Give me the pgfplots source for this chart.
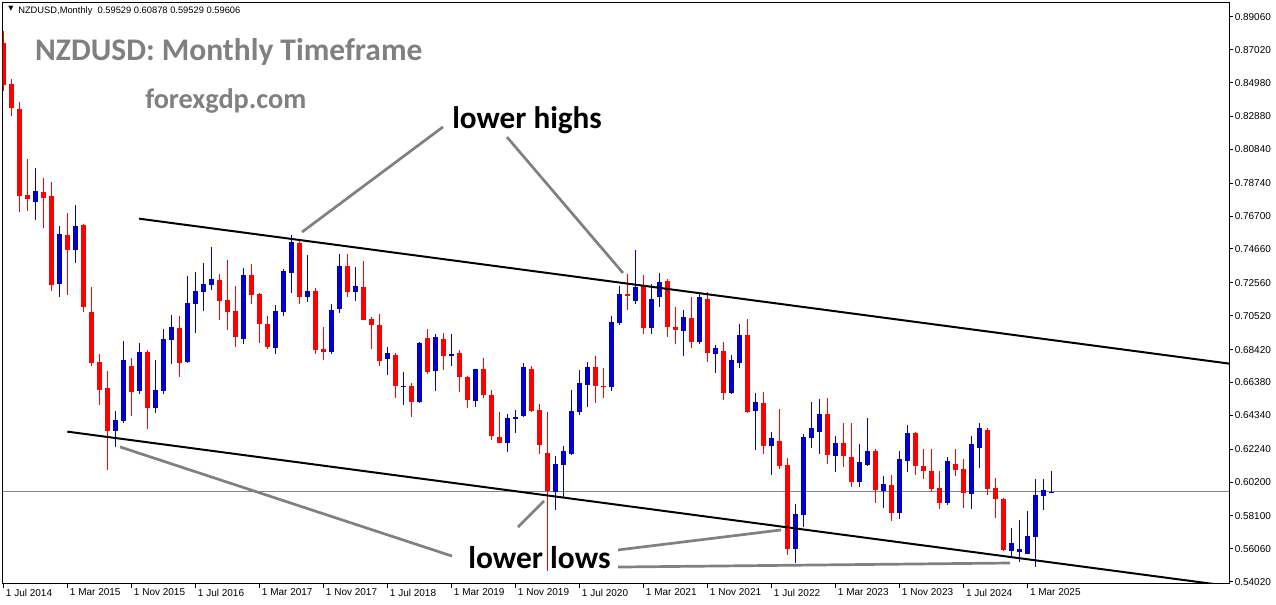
\documentclass[border=0pt]{standalone}
\usepackage{pgfplots}
\pgfplotsset{compat=1.18}
\usepackage{pgfplotstable}
\usepackage{fontspec}
\setmainfont{Liberation Sans}
\newfontfamily\calfont{Carlito}
\newfontfamily\symfont{DejaVu Sans}
\newlength\px
\setlength\px{0.75pt}
\definecolor{bullc}{RGB}{0,0,205}
\definecolor{bearc}{RGB}{255,0,0}
\definecolor{annot}{RGB}{128,128,128}
\definecolor{pricel}{RGB}{119,136,153}

% bullish (blue) monthly candles: bar index from Jul 2014, open high low close
\pgfplotstableread{
t o h l c
4 0.7759 0.7968 0.7646 0.7826
7 0.7251 0.7608 0.7170 0.7559
9 0.7460 0.7739 0.7381 0.7608
14 0.6339 0.6461 0.6239 0.6405
15 0.6401 0.6895 0.6385 0.6777
17 0.6587 0.6883 0.6568 0.6827
19 0.6481 0.6777 0.6450 0.6591
20 0.6587 0.6970 0.6568 0.6908
21 0.6901 0.7056 0.6754 0.6982
23 0.6767 0.7298 0.6761 0.7131
24 0.7126 0.7325 0.6947 0.7205
25 0.7201 0.7381 0.7083 0.7249
26 0.7244 0.7478 0.7211 0.7280
30 0.6909 0.7348 0.6878 0.7305
34 0.6854 0.7118 0.6816 0.7081
35 0.7077 0.7342 0.7052 0.7329
36 0.7319 0.7553 0.7195 0.7509
38 0.7170 0.7429 0.7139 0.7205
41 0.6829 0.7125 0.6816 0.7087
42 0.7095 0.7435 0.7071 0.7360
44 0.7201 0.7354 0.7145 0.7236
48 0.6785 0.6858 0.6686 0.6821
50 0.6610 0.6703 0.6500 0.6618
52 0.6519 0.6889 0.6512 0.6883
54 0.6711 0.6939 0.6587 0.6920
56 0.6802 0.6939 0.6742 0.6814
59 0.6525 0.6721 0.6488 0.6721
63 0.6264 0.6444 0.6208 0.6419
64 0.6413 0.6469 0.6326 0.6426
65 0.6432 0.6759 0.6426 0.6734
69 0.5960 0.6184 0.5849 0.6134
70 0.6128 0.6246 0.5923 0.6215
71 0.6196 0.6593 0.6190 0.6463
72 0.6455 0.6715 0.6436 0.6635
73 0.6622 0.6767 0.6488 0.6734
76 0.6612 0.7050 0.6587 0.7013
77 0.7009 0.7236 0.6996 0.7187
79 0.7143 0.7460 0.7125 0.7230
81 0.6978 0.7249 0.6940 0.7156
82 0.7170 0.7317 0.7108 0.7261
85 0.6959 0.7087 0.6804 0.7044
87 0.6891 0.7193 0.6878 0.7168
89 0.6816 0.6870 0.6698 0.6854
91 0.6574 0.6810 0.6568 0.6777
92 0.6761 0.7001 0.6730 0.6932
94 0.6463 0.6571 0.6221 0.6517
96 0.6246 0.6333 0.6066 0.6295
99 0.5607 0.5884 0.5520 0.5822
100 0.5818 0.6320 0.5743 0.6301
101 0.6295 0.6517 0.6233 0.6357
102 0.6333 0.6535 0.6196 0.6442
104 0.6184 0.6308 0.6084 0.6261
107 0.6022 0.6256 0.5991 0.6145
108 0.6128 0.6419 0.6122 0.6213
110 0.5967 0.6060 0.5861 0.6010
112 0.5830 0.6215 0.5793 0.6165
113 0.6153 0.6374 0.6084 0.6324
118 0.5892 0.6176 0.5880 0.6151
121 0.5948 0.6306 0.5855 0.6256
122 0.6233 0.6386 0.6109 0.6355
126 0.5594 0.5737 0.5557 0.5644
127 0.5588 0.5787 0.5526 0.5607
128 0.5576 0.5842 0.5576 0.5687
129 0.5681 0.6041 0.5495 0.5942
130 0.5936 0.6041 0.5849 0.5973
131 0.59529 0.60878 0.59529 0.59606
}\bull

% bearish (red) monthly candles
\pgfplotstableread{
t o h l c
0 0.8742 0.8818 0.8448 0.8483
1 0.8489 0.8518 0.8291 0.8342
2 0.8334 0.8378 0.7697 0.7796
3 0.7803 0.8024 0.7702 0.7776
5 0.7819 0.7906 0.7598 0.7784
6 0.7795 0.7881 0.7207 0.7242
8 0.7553 0.7689 0.7180 0.7460
10 0.7615 0.7621 0.7077 0.7103
11 0.7073 0.7230 0.6740 0.6761
12 0.6765 0.6814 0.6498 0.6593
13 0.6604 0.6709 0.6095 0.6339
16 0.6740 0.6788 0.6430 0.6581
18 0.6827 0.6839 0.6351 0.6481
22 0.6976 0.7050 0.6674 0.6761
27 0.7274 0.7311 0.7027 0.7145
28 0.7149 0.7398 0.6963 0.7077
29 0.7081 0.7236 0.6860 0.6922
31 0.7305 0.7373 0.7126 0.7182
32 0.7187 0.7193 0.6885 0.7002
33 0.7001 0.7050 0.6847 0.6858
37 0.7503 0.7515 0.7126 0.7170
39 0.7205 0.7224 0.6816 0.6841
40 0.6847 0.6982 0.6779 0.6829
43 0.7360 0.7435 0.7170 0.7201
45 0.7230 0.7391 0.7027 0.7027
46 0.7032 0.7046 0.6847 0.6996
47 0.6995 0.7063 0.6742 0.6773
49 0.6808 0.6821 0.6543 0.6618
51 0.6616 0.6635 0.6426 0.6519
53 0.6914 0.6970 0.6692 0.6705
55 0.6908 0.6945 0.6717 0.6804
57 0.6821 0.6839 0.6581 0.6674
58 0.6672 0.6678 0.6481 0.6531
60 0.6721 0.6790 0.6543 0.6562
61 0.6560 0.6591 0.6283 0.6308
62 0.6301 0.6457 0.6264 0.6264
66 0.6721 0.6742 0.6457 0.6463
67 0.6469 0.6506 0.6196 0.6252
68 0.6202 0.6457 0.5468 0.5967
74 0.6734 0.6802 0.6512 0.6618
75 0.6619 0.6728 0.6543 0.6613
78 0.7189 0.7311 0.7089 0.7176
80 0.7236 0.7305 0.6940 0.6978
83 0.7267 0.7280 0.6922 0.6984
84 0.6982 0.7106 0.6878 0.6965
86 0.7038 0.7168 0.6854 0.6891
88 0.7156 0.7199 0.6767 0.6823
90 0.6833 0.6889 0.6531 0.6574
93 0.6932 0.7032 0.6450 0.6457
95 0.6511 0.6579 0.6196 0.6246
97 0.6275 0.6473 0.6103 0.6122
98 0.6128 0.6168 0.5570 0.5607
103 0.6442 0.6542 0.6134 0.6190
105 0.6262 0.6386 0.6115 0.6184
106 0.6177 0.6386 0.5991 0.6022
109 0.6213 0.6227 0.5892 0.5973
111 0.6004 0.6066 0.5780 0.5830
114 0.6324 0.6331 0.6066 0.6122
115 0.6120 0.6225 0.6041 0.6091
116 0.6089 0.6225 0.5960 0.5979
117 0.5983 0.6089 0.5855 0.5892
119 0.6132 0.6225 0.6060 0.6097
120 0.6101 0.6163 0.5861 0.5954
123 0.6343 0.6355 0.5942 0.5979
124 0.5985 0.6047 0.5799 0.5917
125 0.5915 0.5923 0.5594 0.5601
}\bear

\begin{document}
\begin{tikzpicture}
\useasboundingbox (0,0) rectangle (1276\px,-604\px);
\begin{axis}[
  at={(2.5\px,-2.5\px)}, anchor=north west,
  width=1226.5\px, height=581\px, scale only axis,
  xmin=-0.15, xmax=153.16, ymin=0.53908, ymax=0.89948,
  axis line style={line width=1\px, black},
  xtick={0,8,...,128},
  xticklabels={1 Jul 2014,1 Mar 2015,1 Nov 2015,1 Jul 2016,1 Mar 2017,1 Nov 2017,1 Jul 2018,1 Mar 2019,1 Nov 2019,1 Jul 2020,1 Mar 2021,1 Nov 2021,1 Jul 2022,1 Mar 2023,1 Nov 2023,1 Jul 2024,1 Mar 2025},
  ytick={0.89060,0.87020,0.84980,0.82880,0.80840,0.78740,0.76700,0.74660,0.72560,0.70520,0.68420,0.66380,0.64340,0.62240,0.60200,0.58100,0.56060,0.54020},
  yticklabels={0.89060,0.87020,0.84980,0.82880,0.80840,0.78740,0.76700,0.74660,0.72560,0.70520,0.68420,0.66380,0.64340,0.62240,0.60200,0.58100,0.56060,0.54020},
  xtick pos=left, xticklabel pos=left,
  ytick pos=right, yticklabel pos=right,
  tick align=outside,
  major tick length=4\px,
  tick style={black, line width=1\px},
  xticklabel style={anchor=north west, inner sep=0pt, xshift=2\px, yshift=-1\px, font=\fontsize{7.5}{9}\selectfont},
  yticklabel style={anchor=west, inner sep=0pt, xshift=1.5\px, font=\fontsize{7.5}{9}\selectfont},
  clip=true,
]
% current price line
\addplot[pricel, line width=1\px, forget plot] coordinates {(-0.15,0.59606) (153.16,0.59606)};

% wicks
\addplot[draw=none, mark=none, forget plot,
  error bars/.cd, y dir=plus, y explicit, error mark=none,
  error bar style={draw=bullc, line width=1\px}]
  table[x=t, y=l, y error plus expr=\thisrow{h}-\thisrow{l}] {\bull};
\addplot[draw=none, mark=none, forget plot,
  error bars/.cd, y dir=plus, y explicit, error mark=none,
  error bar style={draw=bearc, line width=1\px}]
  table[x=t, y=l, y error plus expr=\thisrow{h}-\thisrow{l}] {\bear};
% bodies
\addplot[draw=none, mark=none, forget plot,
  error bars/.cd, y dir=plus, y explicit, error mark=none,
  error bar style={draw=bullc, line width=5\px}]
  table[x=t, y=o, y error plus expr=\thisrow{c}-\thisrow{o}] {\bull};
\addplot[draw=none, mark=none, forget plot,
  error bars/.cd, y dir=plus, y explicit, error mark=none,
  error bar style={draw=bearc, line width=5\px}]
  table[x=t, y=c, y error plus expr=\thisrow{o}-\thisrow{c}] {\bear};

% channel lines
\addplot[black, line width=2\px, forget plot] coordinates {(16.91,0.7654) (153.16,0.6755)};
\addplot[black, line width=2\px, forget plot] coordinates {(7.95,0.6333) (153.16,0.5375)};

% annotation pointers
\addplot[annot, line width=2.7\px, forget plot] coordinates {(54.91,0.8223) (37.29,0.7571)};
\addplot[annot, line width=2.7\px, forget plot] coordinates {(62.91,0.8160) (77.41,0.7317)};
\addplot[annot, line width=2.7\px, forget plot] coordinates {(14.54,0.6238) (56.04,0.5561)};
\addplot[annot, line width=2.7\px, forget plot] coordinates {(64.29,0.5741) (67.54,0.5903)};
\addplot[annot, line width=2.7\px, forget plot] coordinates {(76.79,0.5599) (97.16,0.5723)};
\addplot[annot, line width=2.7\px, forget plot] coordinates {(76.79,0.5493) (125.79,0.5518)};

% texts
\node[anchor=base west, inner sep=0pt, text=annot, font=\calfont\bfseries\fontsize{23.6}{28}\selectfont] at (axis cs:3.91,0.8634) {NZDUSD: Monthly Timeframe};
\node[anchor=base west, inner sep=0pt, text=annot, font=\calfont\bfseries\fontsize{21.2}{25}\selectfont] at (axis cs:17.66,0.8340) {forexgdp.com};
\node[anchor=base west, inner sep=0pt, text=black, font=\calfont\bfseries\fontsize{23.4}{28}\selectfont] at (axis cs:56.04,0.8216) {lower highs};
\node[anchor=base west, inner sep=0pt, text=black, font=\calfont\bfseries\fontsize{23.6}{28}\selectfont] at (axis cs:58.04,0.5487) {lower lows};

% header
\node[anchor=center, inner sep=0pt, font=\symfont\fontsize{5}{6}\selectfont] at (axis cs:0.9,0.8955) {▼};
\node[anchor=base west, inner sep=0pt, font=\fontsize{7}{8}\selectfont] at (axis cs:1.79,0.8927) {NZDUSD,Monthly\ \ 0.59529 0.60878 0.59529 0.59606};

% current price tag
\node[anchor=west, fill=black, text=white, inner xsep=1.5\px, inner ysep=1.5\px, font=\fontsize{7.5}{9}\selectfont, xshift=1.5\px] at (axis cs:153.16,0.59606) {0.59606};
\end{axis}
\end{tikzpicture}
\end{document}
